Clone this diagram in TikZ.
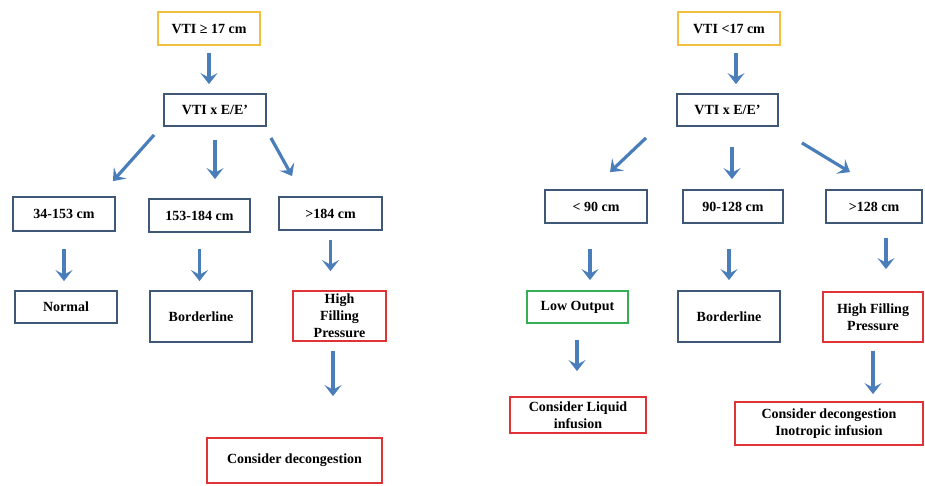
\documentclass[tikz,border=0pt]{standalone}
\usepackage{xcolor}
\usepackage{fontspec}
\setmainfont{Liberation Serif}
\usepackage{tikz}
\usetikzlibrary{arrows.meta}

\definecolor{boxblue}{HTML}{3F5878}
\definecolor{arrblue}{HTML}{4A7EBB}
\definecolor{boxyellow}{HTML}{F2C03E}
\definecolor{boxred}{HTML}{DF3337}
\definecolor{boxgreen}{HTML}{35AE55}

\begin{document}
\begin{tikzpicture}[x=1pt,y=-1pt,
    box/.style={draw=boxblue, line width=1.8pt, fill=white, inner sep=0pt, align=center,
                font=\fontsize{14}{16.8}\selectfont\bfseries},
    ybox/.style={box, draw=boxyellow},
    rbox/.style={box, draw=boxred},
    gbox/.style={box, draw=boxgreen},
    arr/.style={draw=arrblue, line width=3.2pt, -{Stealth[length=11pt,width=17pt,inset=4.5pt]}}]
                    \useasboundingbox (0,0) rectangle (925,485);
                    % left tree: VTI >= 17 cm
                    \node[ybox, minimum width=102, minimum height=33] (topL) at (209,28.5) {VTI ≥ 17 cm};
                    \node[box, minimum width=102, minimum height=32] (midL) at (215,110) {VTI x E/E’};
                    \node[box, minimum width=102, minimum height=34] (aL) at (64,214) {34-153 cm};
                    \node[box, minimum width=101, minimum height=33] (bL) at (199.5,215.5) {153-184 cm};
                    \node[box, minimum width=103, minimum height=33] (cL) at (330.5,213.5) {>184 cm};
                    \node[box, minimum width=102, minimum height=32] (normL) at (66,307) {Normal};
                    \node[box, minimum width=102, minimum height=51] (bordL) at (201,316.5) {Borderline};
                    \node[rbox, minimum width=93, minimum height=50] (highL) at (339.5,316) {High\\Filling\\Pressure};
                    \node[rbox, minimum width=175, minimum height=45] (decL) at (294.5,460.5) {Consider decongestion};

                    \draw[arr] ([yshift=-7pt]topL.south) -- ([yshift=9pt]topL.south |- midL.north);
                    \draw[arr] ([shift={(-9pt,-8pt)}]midL.south west) -- ([shift={(-3pt,15pt)}]aL.north east);
                    \draw[arr] ([yshift=-13pt]midL.south) -- ([yshift=19pt]midL.south |- bL.north);
                    \draw[arr] ([shift={(4pt,-11pt)}]midL.south east) -- ([shift={(14pt,20pt)}]cL.north west);
                    \draw[arr] ([yshift=-17pt]aL.south) -- ([yshift=9pt]aL.south |- normL.north);
                    \draw[arr] ([yshift=-16pt]bL.south) -- ([yshift=9pt]bL.south |- bordL.north);
                    \draw[arr] ([yshift=-9pt]cL.south) -- ([yshift=19pt]cL.south |- highL.north);
                    \draw[arr] ([shift={(-6.5pt,-9pt)}]highL.south) -- ([shift={(38.5pt,41pt)}]decL.north);

                    % right tree: VTI < 17 cm
                    \node[ybox, minimum width=102, minimum height=33] (topR) at (729,28.5) {VTI <17 cm};
                    \node[box, minimum width=101, minimum height=32] (midR) at (727.5,110) {VTI x E/E’};
                    \node[box, minimum width=102, minimum height=33] (aR) at (596,206.5) {< 90 cm};
                    \node[box, minimum width=100, minimum height=33] (bR) at (733,206.5) {90-128 cm};
                    \node[box, minimum width=96, minimum height=33] (cR) at (874,206.5) {>128 cm};
                    \node[gbox, minimum width=101, minimum height=32] (lowR) at (577.5,307) {Low Output};
                    \node[box, minimum width=102, minimum height=51] (bordR) at (729,316.5) {Borderline};
                    \node[rbox, minimum width=100, minimum height=50] (highR) at (873,317) {High Filling\\Pressure};
                    \node[rbox, minimum width=136, minimum height=36] (liqR) at (578,415) {Consider Liquid\\infusion};
                    \node[rbox, minimum width=188, minimum height=43] (decR) at (829,423.5) {Consider decongestion\\Inotropic infusion};

                    \draw[arr] ([shift={(7pt,-7pt)}]topR.south) -- ([shift={(8.5pt,9pt)}]midR.north);
                    \draw[arr] ([shift={(-81.5pt,-11pt)}]midR.south) -- ([shift={(14pt,17pt)}]aR.north);
                    \draw[arr] ([shift={(4.5pt,-20pt)}]midR.south) -- ([shift={(-1pt,10pt)}]bR.north);
                    \draw[arr] ([shift={(23pt,-16pt)}]midR.south east) -- ([shift={(-24pt,17pt)}]cR.north);
                    \draw[arr] ([shift={(-6pt,-25pt)}]aR.south) -- ([shift={(12.5pt,10pt)}]lowR.north);
                    \draw[arr] ([shift={(-4pt,-25pt)}]bR.south) -- ([yshift=10pt]bordR.north);
                    \draw[arr] ([shift={(12pt,-14pt)}]cR.south) -- ([shift={(13pt,22pt)}]highR.north);
                    \draw[arr] ([shift={(-0.5pt,-16pt)}]lowR.south) -- ([shift={(-1pt,25pt)}]liqR.north);
                    \draw[arr] ([yshift=-8pt]highR.south) -- ([shift={(44pt,7pt)}]decR.north);
                 \end{tikzpicture}
\end{document}
